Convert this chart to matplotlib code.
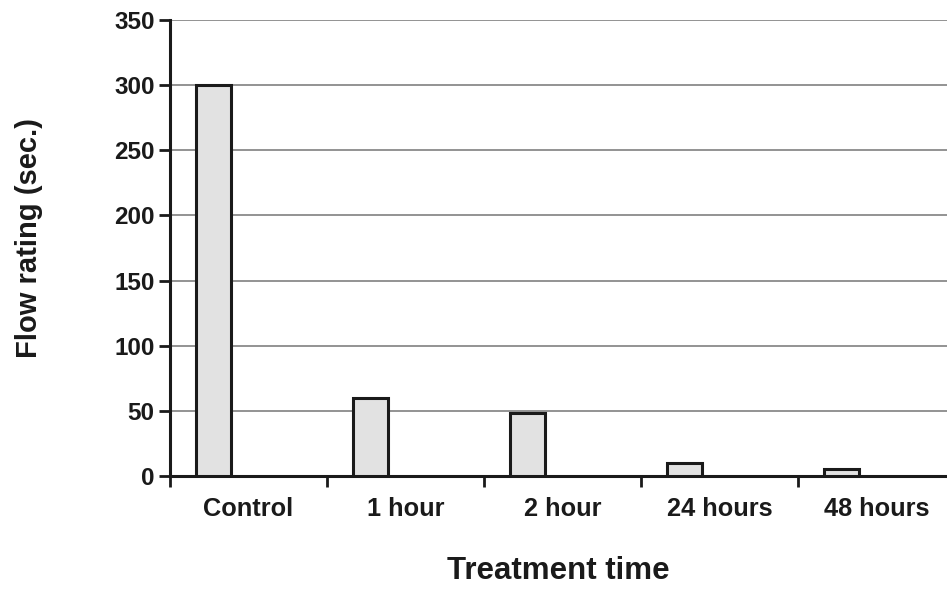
import matplotlib
matplotlib.use("Agg")
import matplotlib.pyplot as plt
import numpy as np

categories = ["Control", "1 hour", "2 hour", "24 hours", "48 hours"]
values = [300, 60, 48, 10, 5]
yticks = [0, 50, 100, 150, 200, 250, 300, 350]

plt.rcParams['font.family'] = ['Liberation Sans', 'DejaVu Sans']
plt.rcParams['font.weight'] = 'bold'

fig = plt.figure(figsize=(9.47, 5.89), dpi=100)
ax = fig.add_axes([170/947, 1-476/589, (947-170)/947, (476-20)/589])

x = np.arange(len(categories))
ax.set_axisbelow(True)
ax.yaxis.grid(True, color='#8a8a8a', linewidth=1.3)
ax.bar(x + 0.278, values, width=0.225, color='#e2e2e2', edgecolor='#1a1a1a', linewidth=2.2, zorder=3)

ax.set_yticks(yticks)
ax.set_yticklabels([str(v) for v in yticks], fontsize=17.5, fontweight='bold', color='#1a1a1a')

ax.set_xticks(np.arange(len(categories) + 1))
ax.set_xticklabels([])
ax.set_xticks(x + 0.5, minor=True)
ax.set_xticklabels(categories, minor=True, fontsize=18.3, fontweight='bold', color='#1a1a1a')
ax.tick_params(axis='x', which='minor', length=0, pad=15)
ax.tick_params(axis='x', which='major', length=8, width=2, direction='out', color='#1a1a1a')
ax.tick_params(axis='y', length=8, width=2, direction='out', color='#1a1a1a', pad=3)

ax.set_xlim(0, 4.95)
ax.set_ylim(0, 350)

for s in ['top', 'right']:
    ax.spines[s].set_visible(False)
for s in ['left', 'bottom']:
    ax.spines[s].set_linewidth(2.2)
    ax.spines[s].set_color('#1a1a1a')

ax.set_xlabel("Treatment time", fontsize=22.5, fontweight='bold', color='#1a1a1a')
ax.xaxis.set_label_coords(0.5, -0.175)
ax.set_ylabel("Flow rating (sec.)", fontsize=21, fontweight='bold', color='#1a1a1a')
ax.yaxis.set_label_coords(-0.163, 0.522)

fig.savefig("out.png", dpi=100)
